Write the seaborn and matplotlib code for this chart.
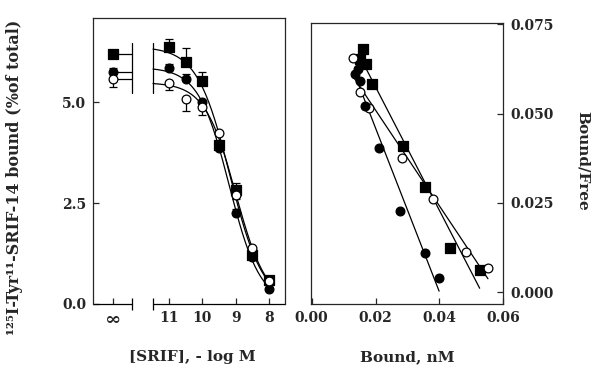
import numpy as np
import pandas as pd
import seaborn as sns
import matplotlib.pyplot as plt
import matplotlib.transforms as mtransforms

# competition curve data (-log M) ; the "infinity" point is zero SRIF
log_conc = [11, 10.5, 10, 9.5, 9, 8.5, 8]
inf_pos = 12.68
break_lo, break_hi = 11.48, 12.11

sq_comp = [6.37, 5.98, 5.52, 3.94, 2.82, 1.21, 0.60]
filled_comp = [5.83, 5.57, 5.01, 3.86, 2.25, 1.17, 0.38]
open_comp = [5.48, 5.07, 4.87, 4.24, 2.70, 1.38, 0.58]
sq_inf, filled_inf, open_inf = 6.20, 5.75, 5.57

sq_err_up = [0.20, 0.35, 0.22, 0.05, 0.18, 0.0, 0.0]
filled_err_up = [0.12, 0.12, 0.0, 0.0, 0.10, 0.0, 0.0]
open_err_dn = [0.18, 0.30, 0.20, 0.0, 0.10, 0.0, 0.0]
sq_inf_err, filled_inf_err, open_inf_err = 0.0, 0.08, 0.20

# Scatchard data
sq_bound = [0.0161, 0.0151, 0.0170, 0.0189, 0.0286, 0.0354, 0.0432, 0.0526]
sq_bf = [0.0680, 0.0652, 0.0638, 0.0584, 0.0409, 0.0294, 0.0124, 0.0062]
open_bound = [0.0130, 0.0151, 0.0180, 0.0284, 0.0380, 0.0484, 0.0552]
open_bf = [0.0655, 0.0562, 0.0516, 0.0376, 0.0260, 0.0113, 0.0067]
filled_bound = [0.0135, 0.0146, 0.0151, 0.0167, 0.0211, 0.0276, 0.0354, 0.0399]
filled_bf = [0.0612, 0.0624, 0.0592, 0.0522, 0.0404, 0.0228, 0.0109, 0.0039]

sns.set_style("ticks")
plt.rcParams["font.family"] = ["DejaVu Serif"]
plt.rcParams["font.weight"] = "bold"
plt.rcParams["axes.linewidth"] = 0.9
plt.rcParams["xtick.direction"] = "in"
plt.rcParams["ytick.direction"] = "in"

fig = plt.figure(figsize=(5.94, 3.72), dpi=100)
ax1 = fig.add_axes([0.1566, 0.1828, 0.3232, 0.7688])
ax2 = fig.add_axes([0.5231, 0.1828, 0.3242, 0.7562])


def fit_sigmoid(x, y, top_point):
    # grid search on midpoint and slope, top solved by least squares
    xs = np.array(x, dtype=float)
    ys = np.append(np.array(y, dtype=float), top_point)
    best = None
    for p in np.arange(8.5, 10.0, 0.01):
        for h in np.arange(0.6, 2.0, 0.02):
            f = np.append(1.0 / (1.0 + 10 ** (h * (p - xs))), 1.0)
            top = (f @ ys) / (f @ f)
            sse = ((ys - top * f) ** 2).sum()
            if best is None or sse < best[0]:
                best = (sse, top, p, h)
    return best[1:]


series = [
    ("sq", sq_comp, sq_inf, sq_err_up, None, sq_inf_err, "s", "black"),
    ("filled", filled_comp, filled_inf, filled_err_up, None, filled_inf_err, "o", "black"),
    ("open", open_comp, open_inf, None, open_err_dn, open_inf_err, "o", "white"),
]

xgrid = np.linspace(break_lo, 8.0, 200)
for name, vals, inf_val, up, dn, inf_err, mk, face in series:
    top, p, h = fit_sigmoid(log_conc, vals, inf_val)
    curve = pd.DataFrame({"x": xgrid, "y": top / (1 + 10 ** (h * (p - xgrid)))})
    sns.lineplot(data=curve, x="x", y="y", ax=ax1, color="black", lw=0.9, zorder=2)
    # connectors across the axis break
    ax1.plot([inf_pos, break_hi], [inf_val, inf_val], color="black", lw=0.9, zorder=2)

    xs = list(log_conc) + [inf_pos]
    ys = list(vals) + [inf_val]
    if up is not None:
        yerr = [[0] * len(xs), list(up) + [inf_err]]
    else:
        yerr = [list(dn) + [inf_err], [0] * len(xs)]
    ax1.errorbar(xs, ys, yerr=yerr, fmt="none", ecolor="black", elinewidth=0.9,
                 capsize=3, capthick=0.9, zorder=3)
    df = pd.DataFrame({"x": xs, "y": ys})
    sns.scatterplot(data=df, x="x", y="y", ax=ax1, marker=mk, s=48 if mk == "s" else 40,
                    color=face, edgecolor="black", linewidth=0.9, zorder=4)

# vertical break bars on the data
for xb in (break_lo, break_hi):
    ax1.plot([xb, xb], [5.22, 6.47], color="black", lw=0.9)

ax1.set_xlim(13.28, 7.52)
ax1.set_ylim(0, 7.08)
ax1.set_xticks([inf_pos, 11, 10, 9, 8])
ax1.set_xticklabels(["\u221e", "11", "10", "9", "8"])
ax1.get_xticklabels()[0].set_fontsize(14)
ax1.set_yticks([0, 2.5, 5.0])
ax1.set_yticklabels(["0.0", "2.5", "5.0"])
ax1.tick_params(labelsize=10, length=4, width=0.9, pad=5)
ax1.get_xticklabels()[0].set_fontsize(14)
ax1.spines["bottom"].set_visible(False)
trans = mtransforms.blended_transform_factory(ax1.transData, ax1.transAxes)
ax1.plot([13.28, break_hi], [0, 0], color="black", lw=0.9, transform=trans, clip_on=False)
ax1.plot([break_lo, 7.52], [0, 0], color="black", lw=0.9, transform=trans, clip_on=False)
ax1.plot([break_hi, break_lo], [0, 0], marker="|", ls="none", ms=8, mew=0.9,
         color="black", transform=trans, clip_on=False)
ax1.set_xlabel("[SRIF], - log M", fontsize=11, fontweight="bold")
ax1.set_ylabel("\u00b9\u00b2\u2075I-Tyr\u00b9\u00b9-SRIF-14 bound (%of total)",
               fontsize=11.5, fontweight="bold")
ax1.xaxis.set_label_coords(0.52, -0.16)
ax1.yaxis.set_label_coords(-0.365, 0.444)

# Scatchard panel
scat = [
    (sq_bound, sq_bf, "s", "black", 48),
    (open_bound, open_bf, "o", "white", 40),
    (filled_bound, filled_bf, "o", "black", 40),
]
for bx, by, mk, face, sz in scat:
    df = pd.DataFrame({"b": bx, "bf": by})
    sns.regplot(data=df, x="b", y="bf", ax=ax2, ci=None, scatter=False, truncate=True,
                line_kws={"color": "black", "lw": 0.9})
    sns.scatterplot(data=df, x="b", y="bf", ax=ax2, marker=mk, s=sz, color=face,
                    edgecolor="black", linewidth=0.9, zorder=4)

ax2.set_xlim(-0.0003, 0.06)
ax2.set_ylim(-0.0033, 0.0755)
ax2.set_xticks([0, 0.02, 0.04, 0.06])
ax2.set_xticklabels(["0.00", "0.02", "0.04", "0.06"])
ax2.set_yticks([0, 0.025, 0.05, 0.075])
ax2.set_yticklabels(["0.000", "0.025", "0.050", "0.075"])
ax2.yaxis.tick_right()
ax2.yaxis.set_label_position("right")
ax2.tick_params(labelsize=10, length=4, width=0.9, pad=5)
ax2.set_xlabel("Bound, nM", fontsize=11, fontweight="bold")
ax2.set_ylabel("Bound/Free", fontsize=11, fontweight="bold", rotation=270)
ax2.xaxis.set_label_coords(0.5, -0.165)
ax2.yaxis.set_label_coords(1.45, 0.51)

fig.savefig("out.png", dpi=100)
